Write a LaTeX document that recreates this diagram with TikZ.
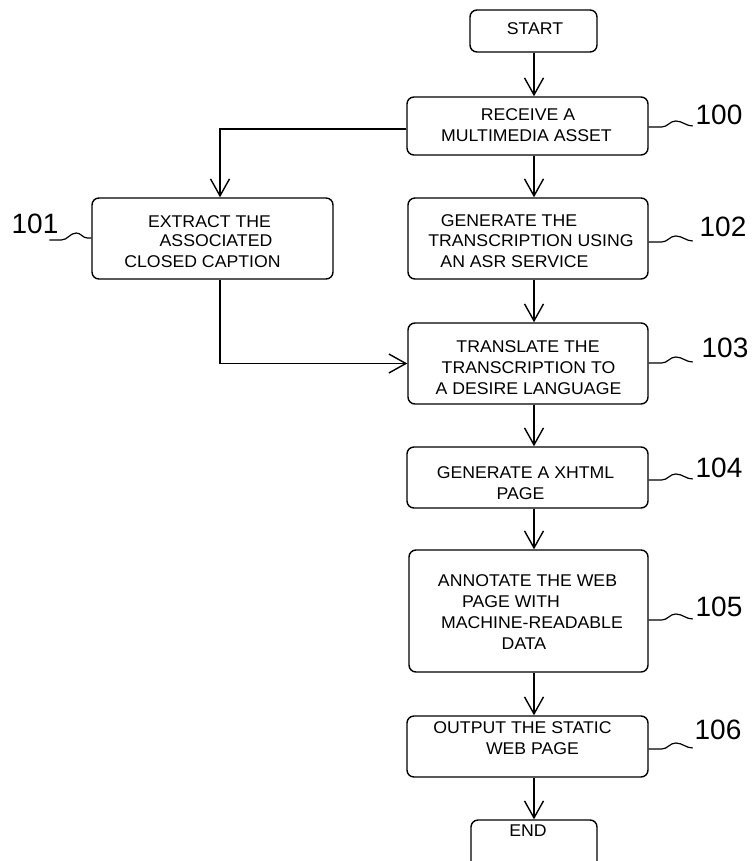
\documentclass[tikz,border=0pt]{standalone}
\usepackage{fontspec}
\setmainfont{Liberation Sans}
\newfontfamily\boxfont[FakeStretch=1.04]{Liberation Sans}
\usetikzlibrary{arrows.meta}
\tikzset{
  stepbox/.style={draw, line width=1.4pt, rounded corners=7pt, inner sep=0pt},
  txt/.style={inner sep=0pt, anchor=center, font=\boxfont\fontsize{17}{21}\selectfont},
  refnum/.style={inner sep=0pt, anchor=center, font=\fontsize{28}{30}\selectfont},
  flow/.style={line width=1.4pt, -{Straight Barb[length=17pt,width=19pt,line width=1.4pt]}},
  wave/.style={line width=1.2pt}
}
\begin{document}
\begin{tikzpicture}[x=1pt,y=-1pt]
\useasboundingbox (0,0) rectangle (752,861);
\clip (0,0) rectangle (752,861);
\fill[white] (0,0) rectangle (752,861);

% process boxes
\node[stepbox, minimum width=127pt, minimum height=42pt] (start) at (533.5,31) {};
\node[stepbox, minimum width=241pt, minimum height=58pt] (receive) at (527.5,126) {};
\node[stepbox, minimum width=241pt, minimum height=81pt] (extract) at (212.5,238.5) {};
\node[stepbox, minimum width=240pt, minimum height=81pt] (generate) at (528,238.5) {};
\node[stepbox, minimum width=240pt, minimum height=81pt] (translate) at (528,363.5) {};
\node[stepbox, minimum width=241pt, minimum height=61pt] (xhtml) at (527.5,477.5) {};
\node[stepbox, minimum width=239pt, minimum height=122pt] (annotate) at (528.5,611) {};
\node[stepbox, minimum width=241pt, minimum height=61pt] (output) at (527.5,746.5) {};
\node[stepbox, minimum width=126pt, minimum height=70pt] (end) at (534,855) {};

% box texts, one node per line
\foreach \n/\x/\y/\s in {
  ta/535/29/START,
  ra/528/115/RECEIVE A, rb/526.5/136/MULTIMEDIA ASSET,
  ea/209.5/222/EXTRACT THE, eb/216/241/ASSOCIATED, ec/202.5/262/CLOSED CAPTION,
  ga/509/221/GENERATE THE, gb/531/241/TRANSCRIPTION USING, gc/514.5/262/AN ASR SERVICE,
  la/528/347/TRANSLATE THE, lb/528.5/368/TRANSCRIPTION TO, lc/528.5/389/A DESIRE LANGUAGE,
  xa/525.5/473/GENERATE A XHTML, xb/520.5/494/PAGE,
  na/527.5/581/ANNOTATE THE WEB, nb/511/602/PAGE WITH, nc/532/623/MACHINE-READABLE, nd/524/644/DATA,
  oa/522.5/728/OUTPUT THE STATIC, ob/532.5/749/WEB PAGE,
  da/528/831/END}
  \node[txt] (line-\n) at (\x,\y) {\s};

% reference numerals
\node[refnum] (n100) at (719,115) {100};
\node[refnum] (n101) at (35,224) {101};
\node[refnum] (n102) at (723,227) {102};
\node[refnum] (n103) at (725,348) {103};
\node[refnum] (n104) at (719,468) {104};
\node[refnum] (n105) at (719,607) {105};
\node[refnum] (n106) at (718,730) {106};

% leader squiggles from boxes to numerals
\foreach \b/\y in {receive/127, generate/242, translate/363, xhtml/480, annotate/620, output/749}
  \draw[wave] (\b.east |- 0,\y) -- ++(13,0) to[out=0,in=180] ++(14,-6) to[out=0,in=180] ++(17,5);
\draw[wave] (extract.west |- 0,238) -- ++(-4,0) to[out=180,in=0] ++(-11,-5) to[out=180,in=0] ++(-15,7) -- ++(-12,0);

% main column of connectors
\coordinate (ax) at (534,0);
\coordinate (lx) at (220,0);
\coordinate (ly) at (0,129);
\draw[flow] (start.south -| ax) -- (receive.north -| ax);
\draw[flow] (receive.south -| ax) -- (generate.north -| ax);
\draw[flow] (generate.south -| ax) -- (translate.north -| ax);
\draw[flow] (translate.south -| ax) -- (xhtml.north -| ax);
\draw[flow] (xhtml.south -| ax) -- (annotate.north -| ax);
\draw[flow] (annotate.south -| ax) -- (output.north -| ax);
\draw[flow] (output.south -| ax) -- (end.north -| ax);

% side branch through the closed caption step
\draw[flow] (receive.west |- ly) -| (lx |- extract.north);
\draw[flow] (lx |- extract.south) |- (translate.west);
\end{tikzpicture}
\end{document}
